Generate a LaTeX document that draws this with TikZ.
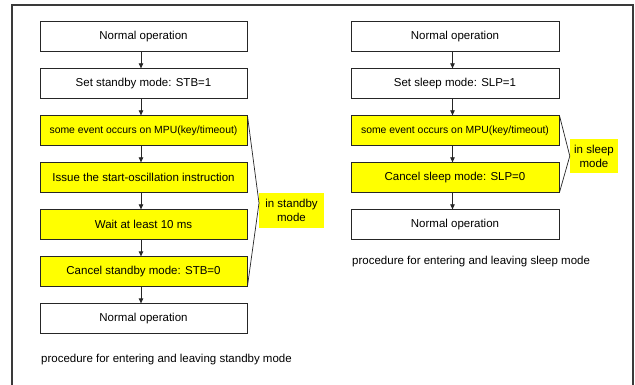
\documentclass[tikz,border=0pt]{standalone}
\usepackage{fontspec}
\setmainfont{Liberation Sans}
\usetikzlibrary{arrows.meta}
\definecolor{yel}{HTML}{FFFF00}
\definecolor{framecol}{HTML}{3A3A3A}
\tikzset{
  box/.style={draw=black!85, line width=0.8pt, fill=white, minimum width=207pt, minimum height=29.5pt, inner sep=0pt, font=\fontsize{11.5}{13}\selectfont},
  ybox/.style={box, fill=yel},
  smalltxt/.style={font=\fontsize{10.4}{12}\selectfont},
  lbl/.style={fill=yel, inner sep=0pt, align=center, font=\fontsize{11.5}{14}\selectfont},
  captxt/.style={anchor=west, inner sep=0pt, font=\fontsize{11.5}{13}\selectfont},
  arr/.style={line width=0.8pt, black!85, -{Triangle[length=5pt,width=4.5pt]}},
  brk/.style={line width=0.7pt, black!85},
}
\begin{document}
\begin{tikzpicture}[x=1pt,y=-1pt]
\useasboundingbox (0,0) rectangle (635,385);
\clip (0,0) rectangle (635,385);
\fill[white] (0,0) rectangle (635,385);
\draw[framecol, line width=1.3pt] (12,5) rectangle (633,400);
% left column
\node[box]  (l1) at (143.5,36.5) {Normal operation};
\node[box]  (l2) at (143.5,83.5) {Set standby mode: STB=1};
\node[ybox,smalltxt] (l3) at (143.5,130.5) {some event occurs on MPU(key/timeout)};
\node[ybox] (l4) at (143.5,177.5) {Issue the start-oscillation instruction};
\node[ybox] (l5) at (143.5,224.5) {Wait at least 10 ms};
\node[ybox] (l6) at (143.5,271.5) {Cancel standby mode: STB=0};
\node[box]  (l7) at (143.5,318.5) {Normal operation};
\foreach \a/\b in {l1/l2,l2/l3,l3/l4,l4/l5,l5/l6,l6/l7}
  \draw[arr] ([xshift=-2.5pt]\a.south) -- ([xshift=-2.5pt]\b.north);
\node[lbl, minimum width=65pt, minimum height=35pt] (sl) at (291.5,210.5) {in standby\\mode};
\coordinate (lv) at (259,203);
\draw[brk] (l3.north east) -- (lv) -- (l6.south east);
\node[captxt] (lc) at (41,360) {procedure for entering and leaving standby mode};
% right column
\node[box,minimum width=208pt]  (r1) at (455,36.5) {Normal operation};
\node[box,minimum width=208pt]  (r2) at (455,83.5) {Set sleep mode: SLP=1};
\node[ybox,smalltxt,minimum width=208pt] (r3) at (455,130.5) {some event occurs on MPU(key/timeout)};
\node[ybox,minimum width=208pt] (r4) at (455,177.5) {Cancel sleep mode: SLP=0};
\node[box,minimum width=208pt]  (r5) at (455,224.5) {Normal operation};
\foreach \a/\b in {r1/r2,r2/r3,r3/r4,r4/r5}
  \draw[arr] ([xshift=-2.5pt]\a.south) -- ([xshift=-2.5pt]\b.north);
\node[lbl, minimum width=48pt, minimum height=34pt] (ss) at (594,156) {in sleep\\mode};
\draw[brk] (r3.north east) -- (ss.west) -- (r4.south east);
\node[captxt] (rc) at (352,262) {procedure for entering and leaving sleep mode};
\end{tikzpicture}
\end{document}
